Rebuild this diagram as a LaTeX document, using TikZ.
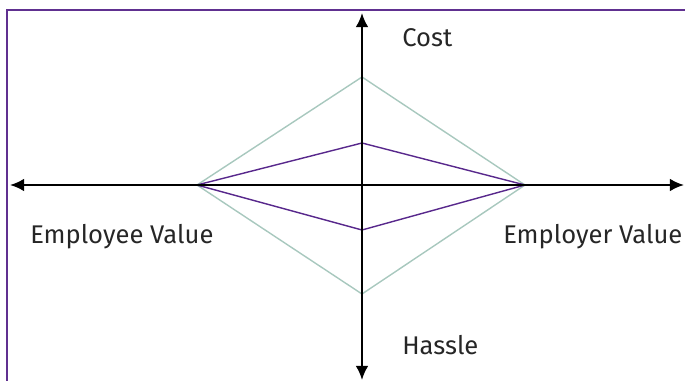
\documentclass[tikz,border=0pt]{standalone}
\usepackage{fontspec}
\setmainfont{Fira Sans}
\usetikzlibrary{arrows.meta}

\definecolor{framepurple}{RGB}{96,48,144}
\definecolor{linepurple}{RGB}{88,40,140}
\definecolor{sage}{RGB}{168,200,190}

\begin{document}
\begin{tikzpicture}[
  x=0.025cm, y=-0.025cm,
  font=\fontsize{18.2}{22}\selectfont,
  >={Latex[length=10pt,width=9pt]},
  axis/.style={<->, line width=1.5pt, black},
  outer/.style={draw=sage, line width=1pt},
  inner/.style={draw=linepurple, line width=1pt},
  tag/.style={anchor=west, inner sep=0pt, text=black!85}
]
\useasboundingbox (0,0) rectangle (685,381);

% frame
\draw[framepurple, line width=2pt] (7,381) -- (7,10) -- (685,10);

% axis ends
\coordinate (west) at (10,185);
\coordinate (east) at (684,185);
\coordinate (north) at (362,13);
\coordinate (south) at (362,380);

% diamond corners
\coordinate (employee) at (197,185);
\coordinate (employer) at (525,185);
\coordinate (costhi) at (362,77);
\coordinate (hasslehi) at (362,294);
\coordinate (costlo) at (362,143);
\coordinate (hasslelo) at (362,230);

\draw[outer] (employee) -- (costhi) -- (employer) -- (hasslehi) -- cycle;
\draw[inner] (employee) -- (costlo) -- (employer) -- (hasslelo) -- cycle;

\draw[axis] (west) -- (east);
\draw[axis] (north) -- (south);

\node[tag] (cost) at (402,38) {Cost};
\node[tag] (hassle) at (402,345) {Hassle};
\node[tag] (employeeval) at (30,237) {Employee Value};
\node[tag] (employerval) at (503,237) {Employer Value};
\end{tikzpicture}
\end{document}
